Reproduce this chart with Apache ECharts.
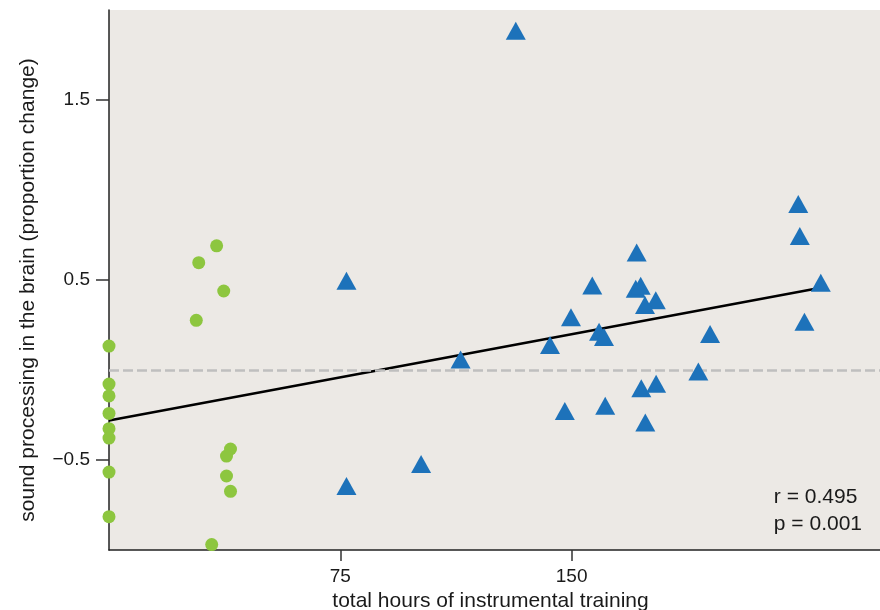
<!DOCTYPE html>
<html>
<head>
<meta charset="utf-8">
<script src="https://cdn.jsdelivr.net/npm/echarts@6/dist/echarts.min.js"></script>
<style>html,body{margin:0;padding:0;background:#fff;}#c{width:880px;height:610px;}</style>
</head>
<body>
<div id="c"></div>
<script>
// Control group (green circles): hours, brain response
var controlHours = [0, 0, 0, 0, 0, 0, 0, 0, 34.9, 29.1, 37.2, 28.3, 39.4, 38.1, 38.1, 39.4, 33.3];
var controlResp  = [0.133, -0.078, -0.144, -0.241, -0.326, -0.378, -0.567, -0.815, 0.69, 0.596, 0.439, 0.276, -0.439, -0.478, -0.589, -0.674, -0.970];

// Music group (blue triangles)
var musicHours = [131.9, 77.0, 77.0, 101.2, 114.0, 223.5, 224.0, 171.1, 230.8, 156.7, 170.8, 172.4, 177.3, 173.8, 225.5, 149.8, 158.9, 160.5, 194.9, 143.0, 191.1, 177.4, 172.6, 147.8, 160.9, 173.9];
var musicResp  = [1.885, 0.496, -0.645, -0.522, 0.058, 0.922, 0.744, 0.653, 0.485, 0.469, 0.452, 0.468, 0.388, 0.361, 0.268, 0.293, 0.213, 0.184, 0.200, 0.139, -0.008, -0.076, -0.102, -0.228, -0.198, -0.291];

// Regression line endpoints
var fitHours = [0, 230.8];
var fitResp  = [-0.28, 0.457];

var xTicks = [75, 150];
var yTicks = [-0.5, 0.5, 1.5];
var xTitle = 'total hours of instrumental training';
var yTitle = 'sound processing in the brain (proportion change)';
var statLines = ['r = 0.495', 'p = 0.001'];

function pairs(xs, ys) { return xs.map(function (x, i) { return [x, ys[i]]; }); }

var FONT = '"Liberation Sans", Arial, Helvetica, sans-serif';
var chart = echarts.init(document.getElementById('c'), null, {renderer: 'canvas'});
chart.setOption({
  animation: false,
  backgroundColor: '#ffffff',
  grid: {left: 109, right: 0, top: 10, bottom: 60, show: true, backgroundColor: '#ECE9E5', borderWidth: 0,
         outerBoundsMode: 'none', containLabel: false},
  xAxis: {
    type: 'value', min: 0, max: 250,
    name: xTitle,
    nameLocation: 'middle', nameGap: 33,
    nameTextStyle: {fontFamily: FONT, fontSize: 21, color: '#1a1a1a', padding: [0, 8, 0, 0]},
    axisLine: {show: true, onZero: false, lineStyle: {color: '#222', width: 1.5}},
    axisTick: {show: true, length: 11, customValues: xTicks, lineStyle: {color: '#333', width: 1.5}},
    axisLabel: {customValues: xTicks, fontFamily: FONT, fontSize: 19, color: '#1a1a1a', margin: 17},
    splitLine: {show: false}
  },
  yAxis: {
    type: 'value', min: -1, max: 2,
    axisLine: {show: true, onZero: false, lineStyle: {color: '#222', width: 1.5}},
    axisTick: {show: true, length: 13, customValues: yTicks, lineStyle: {color: '#333', width: 1.5}},
    axisLabel: {customValues: yTicks, fontFamily: FONT, fontSize: 19, color: '#1a1a1a', margin: 19,
      formatter: function (v) { return String(v).replace('-', '\u2212'); }},
    splitLine: {show: false}
  },
  graphic: [{
    type: 'text', x: 28, y: 290, rotation: Math.PI / 2,
    style: {text: yTitle, fontFamily: FONT, fontSize: 21, fill: '#1a1a1a', align: 'center', verticalAlign: 'middle'}
  }, {
    type: 'text', right: 18, top: 484,
    style: {text: statLines.join('\n'), fontFamily: FONT, fontSize: 21, lineHeight: 27, fill: '#1a1a1a', align: 'right'}
  }],
  series: [
    {
      type: 'line', data: pairs(fitHours, fitResp), symbol: 'none', z: 3,
      lineStyle: {color: '#000', width: 2.5},
      markLine: {
        silent: true, symbol: 'none', label: {show: false},
        lineStyle: {color: '#bfbfbf', width: 2.5, type: [10, 4]},
        data: [{yAxis: 0}]
      }
    },
    {
      type: 'scatter', data: pairs(controlHours, controlResp), symbol: 'circle', symbolSize: 13,
      itemStyle: {color: '#8DC63F', opacity: 1}, clip: false, z: 4
    },
    {
      type: 'scatter', data: pairs(musicHours, musicResp), symbol: 'triangle', symbolSize: [20, 18],
      itemStyle: {color: '#1D72BA', opacity: 1}, clip: false, z: 5
    }
  ]
});
</script>
</body>
</html>
